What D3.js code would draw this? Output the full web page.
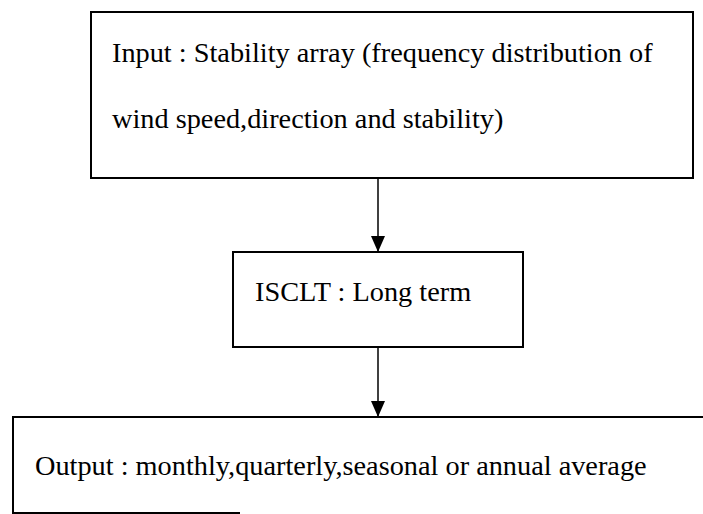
<!DOCTYPE html>
<html>
<head>
<meta charset="utf-8">
<script src="https://cdn.jsdelivr.net/npm/d3@7"></script>
<style>
  body { margin: 0; background: #fff; }
  svg { display: block; }
</style>
</head>
<body>
<div id="chart"></div>
<script>
// flow steps, top to bottom
const steps = ["input", "model", "output"];
const stepLines = [
  ["Input : Stability array (frequency distribution of", "wind speed,direction and stability)"],
  ["ISCLT : Long term"],
  ["Output : monthly,quarterly,seasonal or annual average"]
];
const links = [[0, 1], [1, 2]];

const width = 703, height = 514;

// layout of the boxes (pixels)
const boxLayout = [
  { x0: 91, x1: 693, y0: 12, y1: 178, tx: 112, ty: [62, 128] },
  { x0: 233, x1: 523, y0: 252, y1: 347, tx: 255, ty: [301] },
  { x0: 13, x1: 703, y0: 417, y1: 513, tx: 35, ty: [475] }
];
const arrowX = 378;

const svg = d3.select("#chart").append("svg")
  .attr("width", width)
  .attr("height", height);

// arrow head points along +x, marker orient turns it down the line
svg.append("defs").append("marker")
  .attr("id", "arrow")
  .attr("viewBox", "0 0 16 14")
  .attr("refX", 16)
  .attr("refY", 7)
  .attr("markerWidth", 16)
  .attr("markerHeight", 14)
  .attr("markerUnits", "userSpaceOnUse")
  .attr("orient", "auto")
  .append("path")
  .attr("d", "M0,0 L16,7 L0,14 Z")
  .attr("fill", "#000");

const g = svg.append("g");

// boxes
steps.forEach(function(s, i) {
  const b = boxLayout[i];
  const box = g.append("g").attr("class", "box " + s);
  if (s === "output") {
    // open on the right, bottom edge stops short
    box.append("path")
      .attr("d", "M" + b.x1 + "," + b.y0 + " L" + b.x0 + "," + b.y0 + " L" + b.x0 + "," + b.y1 + " L" + 240 + "," + b.y1)
      .attr("fill", "none").attr("stroke", "#000").attr("stroke-width", 2);
  } else {
    box.append("rect")
      .attr("x", b.x0).attr("y", b.y0)
      .attr("width", b.x1 - b.x0).attr("height", b.y1 - b.y0)
      .attr("fill", "none").attr("stroke", "#000").attr("stroke-width", 2);
  }
  box.selectAll("text").data(stepLines[i]).enter()
    .append("text")
    .attr("x", b.tx)
    .attr("y", function(d, j) { return b.ty[j]; })
    .attr("font-family", "'Liberation Serif', 'Times New Roman', serif")
    .attr("font-size", 28.3)
    .attr("fill", "#000")
    .text(function(d) { return d; });
});

// arrows
g.selectAll(".link").data(links).enter()
  .append("line")
  .attr("class", "link")
  .attr("x1", arrowX)
  .attr("x2", arrowX)
  .attr("y1", function(d) { return boxLayout[d[0]].y1; })
  .attr("y2", function(d) { return boxLayout[d[1]].y0; })
  .attr("stroke", "#000")
  .attr("stroke-width", 1.5)
  .attr("marker-end", "url(#arrow)");
</script>
</body>
</html>
